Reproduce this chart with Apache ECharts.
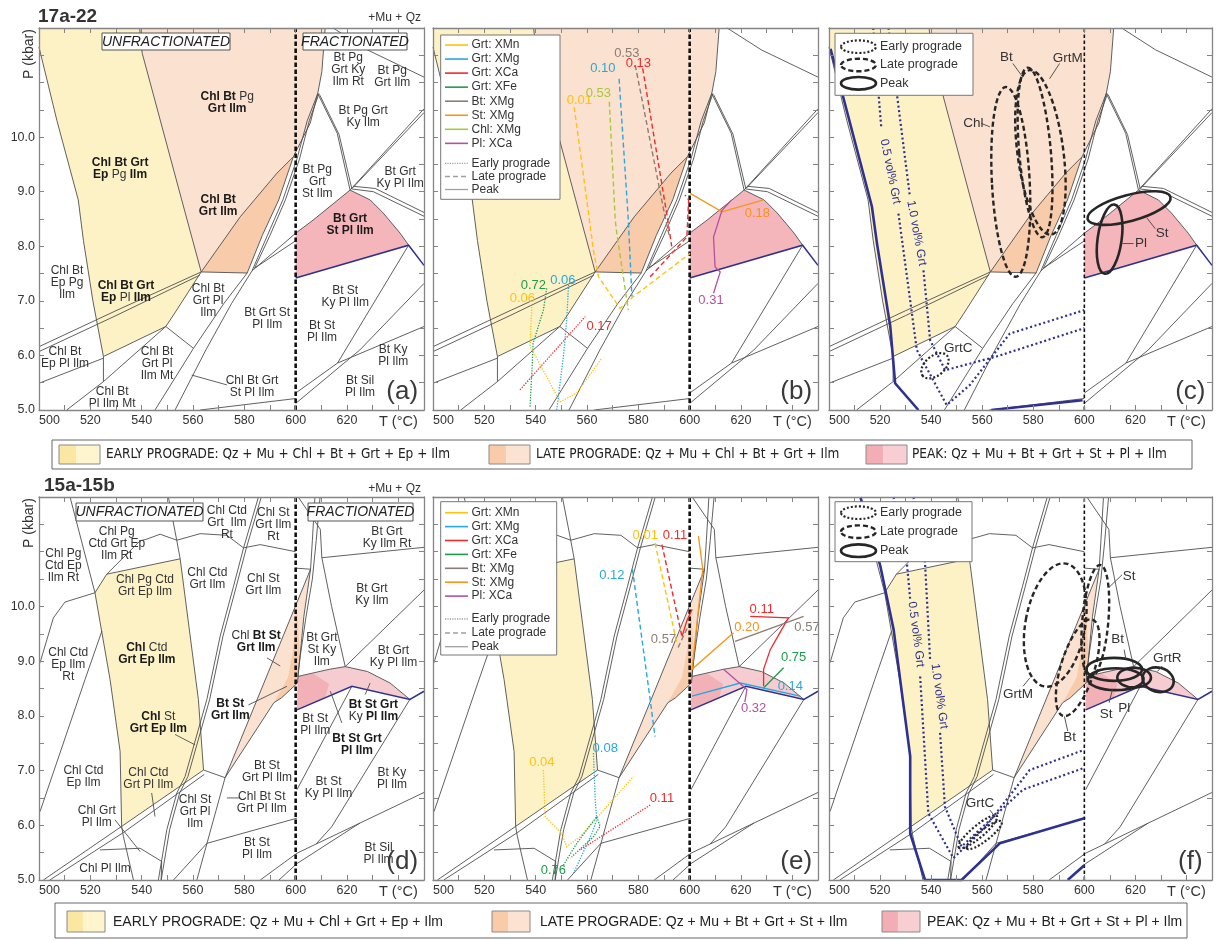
<!DOCTYPE html>
<html><head><meta charset="utf-8">
<script src="https://cdn.jsdelivr.net/npm/echarts/dist/echarts.min.js"></script>
<style>html,body{margin:0;padding:0;background:#fff}#c{width:1220px;height:940px}</style>
</head><body><div id="c"></div>
<script>
// ---------------- DATA ----------------
const T_MIN = 500, T_MAX = 650, T_STEP = 10, T_NAME_AT = 640;
const P_MIN = 5, P_MAX = 12, P_STEP = 0.5;
const FRACT_T = 600;

// Row 1 (17a-22) assemblage fields
const r1Yellow = [[500,12],[539.2,12],[540.2,11.54],[555.6,8.85],[563.2,7.53],[552.4,6.74],[549.4,6.53],[525.1,5.98],[521,7.0],[517.3,8.11],[515.3,8.85],[507,10.3],[500,11.65]];
const r1OrangeLight = [[539.2,12],[611.5,12],[610.2,11.2],[608.6,10.8],[605.7,10.26],[599.1,9.64],[592.7,9.34],[578.4,8.54],[563.2,7.53],[555.6,8.85],[540.2,11.54]];
const r1OrangeDark = [[563.2,7.53],[581.1,7.51],[587,8.2],[593.4,8.85],[599.1,9.64],[592.7,9.34],[578.4,8.54]];
const r1Pink = [[600,8.24],[606.8,8.48],[621.2,9.03],[629,8.85],[634.1,8.61],[640.7,8.24],[644,8.02],[600,7.42]];
const r1Lines = [
 [[500,11.65],[507,10.3],[515.3,8.85],[517.3,8.11],[521,7.0],[525.1,5.98],[525.1,5.52]],
 [[539.2,12],[540.2,11.54],[555.6,8.85],[563.2,7.53]],
 [[611.5,12],[610.2,11.2],[608.6,10.8],[605.7,10.26],[599.1,9.64]],
 [[581.1,7.51],[587,8.2],[593.4,8.85],[599.1,9.64]],
 [[583,7.55],[589,8.2],[595,8.85],[600.5,9.6],[604.5,10.3],[608.6,10.8]],
 [[584,7.6],[590,8.2],[596,8.85],[601.5,9.6],[605.3,10.3],[609.1,10.8]],
 [[500,6.16],[530,6.82],[563.2,7.53],[578.4,8.54],[592.7,9.34],[599.1,9.64]],
 [[500,6.07],[530,6.73],[562.6,7.47]],
 [[500,5.49],[525.1,5.95]],
 [[510.8,5.0],[525.1,5.52],[549.4,6.53]],
 [[525.1,5.98],[549.4,6.53],[552.4,6.74],[563.2,7.53]],
 [[545.2,5.0],[560.2,6.13],[572,6.95],[581.1,7.51]],
 [[549.4,6.53],[560.2,6.13]],
 [[553,5.0],[565,6.1],[575,6.95],[583,7.55]],
 [[563.2,7.53],[581.1,7.51]],
 [[562.8,5.0],[600,5.21]],
 [[583,7.55],[600,8.24],[606.8,8.48],[621.2,9.03]],
 [[584,7.6],[600,8.1]],
 [[608.6,10.8],[616.2,10.07],[621.2,9.03]],
 [[609.3,10.78],[616.9,10.05],[621.9,9.05]],
 [[621.2,9.03],[650,10.52]],
 [[622.2,9.07],[650,10.45]],
 [[621.2,9.03],[629,8.85],[634.1,8.61],[640.7,8.24],[644,8.02]],
 [[621.9,9.05],[630.3,9.0],[650,8.55]],
 [[622.4,9.1],[631,9.06],[650,8.62]],
 [[614.6,12],[627.9,11.6],[650,11.1]],
 [[644,8.02],[616.3,5.86]],
 [[600,5.31],[616.3,5.86],[650,6.53]],
 [[600,5.12],[625,6.1],[650,7.32]]
];
const r1Leaders = [[[559.5,5.64],[573.2,5.46]]];
const r1Blue = [[600,7.42],[644,8.02],[650,7.65]];
const r1Labels = [
 [573.3,10.64,'{b|Chl Bt} {n|Pg}\n{b|Grt Ilm}'],
 [531.6,9.43,'{b|Chl Bt Grt}\n{b|Ep} {n|Pg} {b|Ilm}'],
 [569.8,8.75,'{b|Chl Bt}\n{b|Grt Ilm}'],
 [620.5,11.23,'Bt Pg\nGrt Ky\nIlm Rt'],
 [637.6,11.1,'Bt Pg\nGrt Ilm'],
 [626.3,10.37,'Bt Pg Grt\nKy Ilm'],
 [608.4,9.18,'Bt Pg\nGrt\nSt Ilm'],
 [640.7,9.25,'Bt Grt\nKy Pl Ilm'],
 [621.2,8.39,'{b|Bt Grt}\n{b|St Pl Ilm}'],
 [510.9,7.33,'Chl Bt\nEp Pg\nIlm'],
 [533.9,7.16,'{b|Chl Bt Grt}\n{b|Ep} {n|Pl} {b|Ilm}'],
 [565.9,7.01,'Chl Bt\nGrt Pl\nIlm'],
 [588.9,6.68,'Bt Grt St\nPl Ilm'],
 [619.3,7.07,'Bt St\nKy Pl Ilm'],
 [610.3,6.43,'Bt St\nPl Ilm'],
 [510.1,5.95,'Chl Bt\nEp Pl Ilm'],
 [546,5.84,'Chl Bt\nGrt Pl\nIlm Mt'],
 [638,6.0,'Bt Ky\nPl Ilm'],
 [583,5.42,'Chl Bt Grt\nSt Pl Ilm'],
 [625.1,5.42,'Bt Sil\nPl Ilm'],
 [528.5,5.22,'Chl Bt\nPl Ilm Mt']
];

// Row 2 (15a-15b) assemblage fields
const r2Yellow = [[521.8,10.25],[526.4,10.59],[555,10.87],[562.1,8.3],[564.1,7.01],[532.2,5.98],[531.6,7.35],[527.7,8.66]];
const r2OrangeLight = [[572.5,6.87],[605.8,10.68],[603.2,9.82],[600.7,8.6],[594.5,8.33],[591.5,8.24]];
const r2OrangeDark = [[591.5,8.24],[594.5,8.33],[600.7,8.6],[601.6,9.2],[600.5,9.95],[599,9.2],[597,8.7]];
const r2PinkLight = [[600.8,8.72],[613,8.85],[619.3,8.9],[628,8.81],[636.8,8.6],[644.5,8.3],[621.9,8.54],[600.5,8.11]];
const r2PinkDark = [[600.5,8.11],[600.8,8.72],[607,8.77],[613,8.58],[611.5,8.33]];
const r2Lines = [
 [[512.1,12],[521.8,10.25],[527.7,8.66],[531.6,7.35],[532.2,5.98],[532.9,5.79],[536.8,5.0]],
 [[500.4,8.97],[505.6,9.79],[510.1,10.08],[521.8,10.25],[526.4,10.59],[529.6,10.74],[539.4,11.2],[542,11.23]],
 [[526.4,10.59],[555,10.87]],
 [[550.4,12],[553.7,11.2],[555,10.87],[562.1,8.3],[564.1,7.01]],
 [[542,11.23],[547.2,11.32],[553.7,11.21],[562.8,11.33],[573.2,11.3],[579.7,11.07],[586.2,11.13],[600,11.0]],
 [[585.5,12],[579.7,11.07],[575.8,10.37],[570.6,9.46],[565.4,8.3],[556.9,6.89],[553.7,6.59],[549.8,5.92],[546.5,5.0]],
 [[586.6,12],[580.8,11.07],[576.9,10.37],[571.7,9.46],[566.5,8.3],[558,6.89],[554.8,6.59],[550.9,5.92],[547.6,5.0]],
 [[500.4,6.25],[517.9,8.66],[524.5,9.55]],
 [[501.7,5.0],[532.2,5.98],[564.1,7.01]],
 [[504.2,5.0],[533,5.87],[564.4,6.93]],
 [[564.1,7.01],[572.5,6.87]],
 [[572.5,6.87],[561.5,5.0]],
 [[572.5,6.87],[605.8,10.68]],
 [[572.5,6.87],[591.5,8.24],[594.5,8.33],[600.7,8.6],[603.2,9.82],[605.8,10.68]],
 [[600.5,6.13],[565.4,5.67],[552.4,5.0]],
 [[523.8,5.55],[539.4,5.58],[547.8,5.34],[547.6,5.0]],
 [[586.2,5.0],[600.5,5.49],[650,6.6]],
 [[593.5,5.0],[600.5,5.3],[625,6.04]],
 [[600.5,6.65],[621.9,8.54]],
 [[644.5,8.3],[614,5.97],[608,5.66]],
 [[600.8,8.72],[613,8.85],[619.3,8.9],[628,8.81],[636.8,8.6],[644.5,8.3]],
 [[601,12],[609.6,11.41],[610.2,10.89],[614,10.0],[619.3,8.9]],
 [[607.5,12],[606.5,11.2],[605.8,10.68]],
 [[609.5,12],[608,11.2],[606.5,10.5],[604,9.8],[601.8,9.1],[600.8,8.72]],
 [[610.2,10.89],[650,11.08]],
 [[619.3,8.9],[650,10.3]],
 [[600,10.7],[605.8,10.68]]
];
const r2Leaders = [
 [[581.6,8.2],[596.6,8.54]],
 [[588.8,9.06],[594,8.91]],
 [[573.2,6.5],[578.4,6.5]],
 [[553,7.66],[560.8,7.47]],
 [[613.5,8.45],[618,7.87]],
 [[629,8.6],[627.1,8.39]],
 [[529.6,6.1],[539.4,5.52]],
 [[543.9,6.59],[545.2,6.16]]
];
const r2Blue = [[600.5,8.11],[621.9,8.54],[644.5,8.3],[650,8.45]];
const r2Labels = [
 [509.5,10.74,'Chl Pg\nCtd Ep\nIlm Rt'],
 [530.3,11.15,'Chl Pg\nCtd Grt Ep\nIlm Rt'],
 [573.2,11.53,'Chl Ctd\nGrt  Ilm\nRt'],
 [591.3,11.5,'Chl St\nGrt Ilm\nRt'],
 [635.6,11.26,'Bt Grt\nKy Ilm Rt'],
 [541.3,10.38,'Chl Pg Ctd\nGrt Ep Ilm'],
 [565.6,10.51,'Chl Ctd\nGrt Ilm'],
 [587.4,10.40,'Chl St\nGrt Ilm'],
 [629.7,10.22,'Bt Grt\nKy Ilm'],
 [511.4,8.94,'Chl Ctd\nEp Ilm\nRt'],
 [542,9.14,'{b|Chl} {n|Ctd}\n{b|Grt Ep Ilm}'],
 [584.6,9.36,'{n|Chl} {b|Bt St}\n{b|Grt Ilm}'],
 [610.2,9.21,'Bt Grt\nSt Ky\nIlm'],
 [638.1,9.09,'Bt Grt\nKy Pl Ilm'],
 [574.5,8.11,'{b|Bt St}\n{b|Grt Ilm}'],
 [546.5,7.87,'{b|Chl} {n|St}\n{b|Grt Ep Ilm}'],
 [607.6,7.84,'Bt St\nPl Ilm'],
 [630.3,8.1,'{b|Bt St Grt}\n{n|Ky} {b|Pl Ilm}'],
 [623.9,7.47,'{b|Bt St Grt}\n{b|Pl Ilm}'],
 [517.3,6.89,'Chl Ctd\nEp Ilm'],
 [542.6,6.85,'Chl Ctd\nGrt Pl Ilm'],
 [588.8,6.98,'Bt St\nGrt Pl Ilm'],
 [612.8,6.68,'Bt St\nKy Pl Ilm'],
 [637.5,6.86,'Bt Ky\nPl Ilm'],
 [586.8,6.42,'Chl Bt St\nGrt Pl Ilm'],
 [560.8,6.25,'Chl St\nGrt Pl\nIlm'],
 [522.5,6.15,'Chl Grt\nPl Ilm'],
 [584.9,5.58,'Bt St\nPl Ilm'],
 [525.7,5.21,'Chl Pl Ilm'],
 [632.3,5.49,'Bt Sil\nPl Ilm']
];
const panelLetters = ['(a)','(b)','(c)','(d)','(e)','(f)'];
const panelLetterAt = [641.5, 5.33];

// Isopleths: [mineral key, stage, points, value label, label T, label P]
const isoColors = {XMn:'#FFC20E', XMg:'#27A8E0', XCa:'#EE2B2B', XFe:'#1E9B4B', BtXMg:'#8C7D74', St:'#F7941D', ChlXMg:'#A6C83B', Pl:'#B5519E'};
const isoNames = {XMn:'Grt: XMn', XMg:'Grt: XMg', XCa:'Grt: XCa', XFe:'Grt: XFe', BtXMg:'Bt: XMg', St:'St: XMg', ChlXMg:'Chl: XMg', Pl:'Pl: XCa'};
const bLegendKeys = ['XMn','XMg','XCa','XFe','BtXMg','St','ChlXMg','Pl'];
const eLegendKeys = ['XMn','XMg','XCa','XFe','BtXMg','St','Pl'];
const bIsopleths = [
 ['XMn','late',[[555.0,10.55],[559.9,8.85],[562.5,7.93],[564.5,7.44],[572.9,6.86],[578.1,7.08],[600.2,7.87]],'0.01',557.0,10.68],
 ['ChlXMg','late',[[568.7,10.65],[571.0,8.48],[571.6,8.24],[576.1,6.83]],'0.53',564.4,10.8],
 ['XMg','late',[[572.5,11.07],[576.1,8.48],[577.5,7.08]],'0.10',566.2,11.26],
 ['BtXMg','late',[[578.8,11.32],[590.4,8.54],[592,8.2]],'0.53',575.5,11.53],
 ['XCa','late',[[581.7,11.26],[591.4,8.5],[593,8.0]],'0.13',580.0,11.35],
 ['XCa','late',[[584.6,7.44],[598.9,8.17],[599.6,8.85],[598.2,8.94]],'',0,0],
 ['St','peak',[[600.2,8.97],[612.6,8.63],[628.8,8.85]],'0.18',626.4,8.61],
 ['Pl','peak',[[616.4,8.85],[612.6,8.66],[609.3,8.17],[609.9,7.62],[611.9,7.53],[609.3,7.14]],'0.31',608.3,7.01],
 ['XFe','early',[[544.3,7.23],[543.0,6.83],[539.0,6.22],[538.5,5.67],[537.8,5.06]],'0.72',539.1,7.29],
 ['XMg','early',[[552.8,7.29],[552.1,6.65],[550.8,5.98],[548.2,5.0]],'0.06',550.6,7.38],
 ['XMn','early',[[538.5,6.89],[537.8,6.16],[539.8,6.0],[549.5,5.15],[556.0,5.31],[565.8,5.95]],'0.06',534.8,7.05],
 ['XCa','early',[[533.9,5.37],[559.3,6.71]],'0.17',564.7,6.53]
];
const eIsopleths = [
 ['XMn','late',[[586.5,11.16],[595,9.33]],'0.01',582.7,11.29],
 ['XCa','late',[[589.2,11.13],[597,9.45]],'0.11',594.3,11.29],
 ['XCa','peak',[[597,9.45],[599,9.75],[601,9.95]],'',0,0],
 ['XMg','late',[[577.7,10.68],[584.6,8.3],[586.5,7.62]],'0.12',569.7,10.57],
 ['BtXMg','late',[[595.5,9.25],[599,9.6]],'0.57',589.8,9.4],
 ['St','peak',[[603.4,11.29],[605.1,10.68],[600.9,8.85],[617.1,9.52]],'0.20',622.3,9.61],
 ['XCa','peak',[[623.6,9.82],[638.5,9.79],[635.9,9.58],[631.4,9.21],[628.8,8.85],[628.8,8.54]],'0.11',628.1,9.95],
 ['BtXMg','peak',[[617.7,9.36],[644.4,9.82]],'0.57',645.7,9.61],
 ['XFe','peak',[[628.8,8.51],[636.6,8.88]],'0.75',640.5,9.06],
 ['XMg','peak',[[600.9,8.36],[619.7,8.6],[643.1,8.36]],'0.14',639.2,8.54],
 ['Pl','peak',[[613.2,8.85],[622.3,8.48],[621.5,8.25]],'0.32',624.9,8.14],
 ['XMn','early',[[543,7.01],[543.7,6.16],[550.2,5.85],[552.1,5.61],[557.3,5.79],[578.1,6.89]],'0.04',542.4,7.14],
 ['XMg','early',[[562.5,7.32],[563.2,6.47],[563.8,6.1],[561.9,5.85],[554.7,5.12]],'0.08',567.1,7.41],
 ['XCa','early',[[584.6,6.37],[557.3,5.55]],'0.11',589.2,6.5],
 ['XFe','early',[[550.8,5.27],[556,5.67],[563.8,6.16],[565.1,5.98],[562.5,5.79],[554,5.42]],'0.76',546.9,5.18]
];

// Uncertainty ellipses: [stage, T, P, semi-axis T, semi-axis P, tilt deg]
const cEllipses = [
 ['late',571.2,9.18,7.4,1.74,3], ['late',580.7,9.72,6.2,1.56,5], ['late',582.8,9.72,9.0,1.52,7.5],
 ['peak',617.5,8.70,16.8,0.24,15], ['peak',609.9,8.13,4.7,0.64,-8],
 ['early',541.5,5.81,6.2,0.18,40]
];
const fEllipses = [
 ['late',588.6,9.66,11.7,1.14,-10], ['late',604.3,9.73,5.1,1.03,-5], ['late',597.4,8.88,6.6,0.92,-17],
 ['peak',611.7,8.85,10.9,0.21,0], ['peak',612.3,8.67,10.9,0.2,0], ['peak',619.5,8.70,6.6,0.18,0], ['peak',628.9,8.66,6.2,0.22,-15],
 ['early',558.3,5.88,9.7,0.11,40], ['early',560.8,5.82,8.6,0.1,38]
];
const cTexts = [[556.5,10.25,'Chl'],[569.5,11.47,'Bt'],[593.5,11.44,'GrtM'],[630.5,8.24,'St'],[622.2,8.05,'Pl'],[550.6,6.13,'GrtC']];
const cLeaders = [[[559.7,10.25],[563,10.19]],[[572,11.35],[575.9,11.1]],[[590.3,11.35],[586.4,11.07]],[[624.5,8.52],[627.8,8.32]],[[614.9,8.05],[619.3,8.05]]];
const fTexts = [[574,8.39,'GrtM'],[617.5,10.56,'St'],[594.2,7.6,'Bt'],[613,9.40,'Bt'],[608.5,8.02,'St'],[615.6,8.14,'Pl'],[632.5,9.06,'GrtR'],[559.1,6.4,'GrtC']];
const fLeaders = [[[576,8.54],[578.6,8.69]],[[614.8,10.58],[609.7,10.35]],[[592.2,7.99],[593.5,7.72]],[[615.6,9.21],[616.3,9.03]],[[609.7,8.24],[611,8.48]],[[630.5,8.91],[628.6,8.81]],[[563,6.28],[564.9,6.16]]];
const cBlueThick = [[[500.6,11.62],[516.8,8.73],[518.8,8.05],[524,6.53],[525.9,5.49],[535,5.0]],[[563.6,5.0],[599.3,5.18]]];
const cBlueDotted = [[[517.3,12],[520.5,10.16]],[[527.2,8.6],[534.4,6.1],[546.1,5.09],[555.2,5.46],[570.8,6.40],[600,6.83]],[[523.3,12],[531.7,8.91]],[[537,7.56],[539.6,6.28],[545.5,5.73],[565.6,5.98],[600,6.5]]];
const cBlueTexts = [[524,9.37,'0.5 vol% Grt',-78.6],[534.3,8.24,'1.0 vol% Grt',-79.5]];
const fBlueThick = [[[512.3,12],[520.1,10.74],[525.3,9.58],[531.8,7.26],[531.8,5.85],[537.6,5.0],[551.9,5.0],[566.9,5.67],[600,6.13]],[[593.5,5.0],[600,5.27]]];
const fBlueDotted = [[[525.3,12],[530.5,10.8],[531.8,10.13]],[[535.7,8.72],[538.9,6.22],[548.7,5.4],[560.4,5.92],[578.6,7.01],[600,7.38]],[[533.1,12],[537.6,10.8],[539.6,9.03]],[[543.5,7.69],[545.4,6.34],[551.9,5.61],[575.9,6.65],[600,7.05]]];
const fBlueTexts = [[534.1,9.49,'0.5 vol% Grt',-82.6],[543.2,8.36,'1.0 vol% Grt',-82]];

const legendRow1 = ['EARLY PROGRADE: Qz + Mu + Chl + Bt + Grt + Ep + Ilm','LATE PROGRADE: Qz + Mu + Chl + Bt + Grt + Ilm','PEAK: Qz + Mu + Bt + Grt + St + Pl + Ilm'];
const legendRow2 = ['EARLY PROGRADE: Qz + Mu + Chl + Grt + Ep + Ilm','LATE PROGRADE: Qz + Mu + Bt + Grt + St + Ilm','PEAK: Qz + Mu + Bt + Grt + St + Pl + Ilm'];
const stageNames = ['Early prograde','Late prograde','Peak'];

// ---------------- STYLE / LAYOUT ----------------
const FONT = "'Liberation Sans', Arial, sans-serif";
const GRIDS = [
 {left:39, top:28, width:385, height:382},
 {left:433, top:28, width:385, height:382},
 {left:829, top:28, width:383, height:382},
 {left:39, top:497, width:385, height:383},
 {left:433, top:497, width:385, height:383},
 {left:829, top:497, width:383, height:383}
];
const FILL = {yellow:'#FDF2C6', orangeL:'#FBE1D0', orangeD:'#F8CBAA', pink1:'#F4B6BB', pinkL:'#F7CCD1', pinkD:'#F1B1B7'};
const LINE_C = '#4f4f4f', BLUE = '#2E3192';
const ISO_DASH = {early:[1.3,1.4], late:[5,3], peak:null};
const ISO_W = {early:1.3, late:1.4, peak:1.3};
const ELL = {early:{w:2.2,dash:[2,2]}, late:{w:2.4,dash:[5,3]}, peak:{w:2.6,dash:null}};
const RICH = {
 b:{fontWeight:'bold',fontSize:12,fontFamily:FONT,fill:'#1a1a1a',lineHeight:12},
 n:{fontWeight:'normal',fontSize:12,fontFamily:FONT,fill:'#333',lineHeight:12}
};

// ---------------- HELPERS ----------------
const pts = (api, arr) => arr.map(p => api.coord(p));
const polyEl = (api, arr, fill) => ({type:'polygon', shape:{points:pts(api,arr)}, style:{fill:fill, stroke:'none'}});
const lineEl = (api, arr, stroke, w, dash) => ({type:'polyline', shape:{points:pts(api,arr)}, style:{stroke:stroke, lineWidth:w, fill:'none', lineDash:dash||null}});
const textEl = (api, T, P, text, o) => { const c = api.coord([T,P]); return {type:'text', x:c[0], y:c[1], rotation:o.rot||0,
  style:{text:text, fill:o.color||'#333', fontSize:o.size||12, fontFamily:FONT, fontWeight:o.weight||'normal', align:'center', verticalAlign:'middle', lineHeight:o.lh||12, rich:RICH}}; };
const ellEl = (api, e) => { const c = api.coord([e[1],e[2]]); const s = api.size([e[3],e[4]]); const st = ELL[e[0]];
  return {type:'ellipse', x:c[0], y:c[1], rotation:e[5]*Math.PI/180, shape:{cx:0,cy:0,rx:s[0],ry:s[1]}, style:{stroke:'#262626', fill:'none', lineWidth:st.w, lineDash:st.dash}}; };
function cs(i, z, build){
  return {type:'custom', xAxisIndex:2*i, yAxisIndex:2*i, z:z, silent:true, animation:false, clip:false,
    data:[[FRACT_T, 8]], renderItem:(p, api) => ({type:'group', children:build(api)})};
}

// ---------------- AXES ----------------
const xAxes = [], yAxes = [];
GRIDS.forEach((g, i) => {
  const line = {show:true, onZero:false, lineStyle:{color:'#858585', width:1.3}};
  const tick = {show:true, inside:true, length:5, lineStyle:{color:'#858585', width:1}};
  xAxes.push({type:'value', gridIndex:i, position:'bottom', min:T_MIN, max:T_MAX, interval:T_STEP, z:10,
    axisLine:line, axisTick:tick, splitLine:{show:false},
    axisLabel:{show:true, margin:4, color:'#333', fontSize:12.5, fontFamily:FONT, alignMinLabel:'left', showMaxLabel:false,
      formatter:v => v === T_NAME_AT ? '{t|T (°C)}' : (v % 20 === 0 ? String(v) : ''),
      rich:{t:{fontSize:14.5, color:'#333', fontFamily:FONT}}}});
  xAxes.push({type:'value', gridIndex:i, position:'top', min:T_MIN, max:T_MAX, interval:T_STEP, z:10,
    axisLine:line, axisTick:tick, axisLabel:{show:false}, splitLine:{show:false}});
  yAxes.push({type:'value', gridIndex:i, position:'left', min:P_MIN, max:P_MAX, interval:P_STEP, z:10,
    axisLine:line, axisTick:tick, splitLine:{show:false},
    axisLabel:{show:i % 3 === 0, margin:4, color:'#333', fontSize:12.5, fontFamily:FONT,
      formatter:v => (Math.abs(v - Math.round(v)) < 1e-6 && v <= 10.01) ? v.toFixed(1) : ''}});
  yAxes.push({type:'value', gridIndex:i, position:'right', min:P_MIN, max:P_MAX, interval:P_STEP, z:10,
    axisLine:line, axisTick:tick, axisLabel:{show:false}, splitLine:{show:false}});
});

// ---------------- SERIES ----------------
const series = [];
for (let i = 0; i < 6; i++) {
  const row1 = i < 3;
  const col = i % 3;
  series.push(cs(i, 1, api => row1
    ? [polyEl(api,r1Yellow,FILL.yellow), polyEl(api,r1OrangeLight,FILL.orangeL), polyEl(api,r1OrangeDark,FILL.orangeD), polyEl(api,r1Pink,FILL.pink1)]
    : [polyEl(api,r2Yellow,FILL.yellow), polyEl(api,r2OrangeLight,FILL.orangeL), polyEl(api,r2OrangeDark,FILL.orangeD), polyEl(api,r2PinkLight,FILL.pinkL), polyEl(api,r2PinkDark,FILL.pinkD)]));
  series.push(cs(i, 3, api => {
    const ch = (row1 ? r1Lines : r2Lines).map(l => lineEl(api, l, LINE_C, 0.9));
    ch.push(lineEl(api, row1 ? r1Blue : r2Blue, BLUE, 1.5));
    const thin = col === 2;
    ch.push(lineEl(api, [[FRACT_T,P_MIN],[FRACT_T,P_MAX]], '#111', thin ? 1.6 : 2.6, thin ? [3.5,2.5] : [4.5,2.5]));
    return ch;
  }));
  if (col === 0) {
    series.push(cs(i, 6, api => {
      const ch = (row1 ? r1Leaders : r2Leaders).map(l => lineEl(api, l, LINE_C, 0.9));
      (row1 ? r1Labels : r2Labels).forEach(l => ch.push(textEl(api, l[0], l[1], l[2], {})));
      return ch;
    }));
  } else if (col === 1) {
    const iso = row1 ? bIsopleths : eIsopleths;
    series.push(cs(i, 5, api => {
      const ch = [];
      iso.forEach(d => {
        ch.push(lineEl(api, d[2], isoColors[d[0]], ISO_W[d[1]], ISO_DASH[d[1]]));
        if (d[3]) ch.push(textEl(api, d[4], d[5], d[3], {color:isoColors[d[0]], size:13}));
      });
      return ch;
    }));
  } else {
    const ells = row1 ? cEllipses : fEllipses, txt = row1 ? cTexts : fTexts, lead = row1 ? cLeaders : fLeaders;
    const bt = row1 ? cBlueThick : fBlueThick, bd = row1 ? cBlueDotted : fBlueDotted, btx = row1 ? cBlueTexts : fBlueTexts;
    series.push(cs(i, 5, api => {
      const ch = [];
      bt.forEach(l => ch.push(lineEl(api, l, BLUE, 2.6)));
      bd.forEach(l => ch.push(lineEl(api, l, BLUE, 2.2, [2,2.6])));
      btx.forEach(t => ch.push(textEl(api, t[0], t[1], t[2], {color:BLUE, size:12, rot:t[3]*Math.PI/180})));
      ells.forEach(e => ch.push(ellEl(api, e)));
      lead.forEach(l => ch.push(lineEl(api, l, '#444', 0.9)));
      txt.forEach(t => ch.push(textEl(api, t[0], t[1], t[2], {size:13.5, color:'#333'})));
      return ch;
    }));
  }
  series.push(cs(i, 7, api => [textEl(api, panelLetterAt[0], panelLetterAt[1], panelLetters[i], {size:26, color:'#3a3a3a', lh:28})]));
}

// ---------------- GRAPHIC (titles, legends) ----------------
const graphic = [];
const gText = (x, y, text, font, o) => graphic.push({type:'text', x:x, y:y, rotation:(o && o.rot) || 0, z:100,
  style:{text:text, fill:(o && o.color) || '#333', font:font, align:(o && o.align) || 'left', verticalAlign:'middle'}});
const gRect = (x, y, w, h, fill, stroke, lw) => graphic.push({type:'rect', z:100, shape:{x:x, y:y, width:w, height:h}, style:{fill:fill, stroke:stroke||'none', lineWidth:lw||1}});
const gLine = (x1, y1, x2, y2, stroke, w, dash) => graphic.push({type:'line', z:101, shape:{x1:x1, y1:y1, x2:x2, y2:y2}, style:{stroke:stroke, lineWidth:w, lineDash:dash||null}});
const gEll = (cx, cy, rx, ry, st) => graphic.push({type:'ellipse', z:101, shape:{cx:cx, cy:cy, rx:rx, ry:ry}, style:{stroke:'#262626', fill:'none', lineWidth:ELL[st].w, lineDash:ELL[st].dash}});

gText(38, 17, '17a-22', 'bold 19px ' + FONT);
gText(44, 486, '15a-15b', 'bold 19px ' + FONT);
gText(421, 18, '+Mu + Qz', '12px ' + FONT, {align:'right'});
gText(421, 489, '+Mu + Qz', '12px ' + FONT, {align:'right'});
gText(29, 54, 'P (kbar)', '14px ' + FONT, {align:'center', rot:Math.PI/2});
gText(29, 523, 'P (kbar)', '14px ' + FONT, {align:'center', rot:Math.PI/2});
[[102,33,128,17,'UNFRACTIONATED'],[303,33,104,17,'FRACTIONATED'],[76,503,127,18,'UNFRACTIONATED'],[308,503,105,18,'FRACTIONATED']].forEach(b => {
  gRect(b[0], b[1], b[2], b[3], '#fff', '#555', 1);
  gText(b[0] + b[2] / 2, b[1] + b[3] / 2 + 0.5, b[4], 'italic 14px ' + FONT, {align:'center', color:'#222'});
});
function isoLegend(g, keys, box, y0, dy, ys) {
  gRect(g.left + box[0], g.top + box[1], box[2], box[3], '#fff', '#777', 1);
  keys.forEach((k, j) => {
    const y = g.top + y0 + j * dy;
    gLine(g.left + 12, y, g.left + 35, y, isoColors[k], 1.6);
    gText(g.left + 38.5, y, isoNames[k], '12px ' + FONT, {color:'#333'});
  });
  const dashes = [[1.2,1.2],[5,3],null];
  stageNames.forEach((s, j) => {
    const y = g.top + ys[j];
    gLine(g.left + 12, y, g.left + 35, y, '#a0a0a0', 1.3, dashes[j]);
    gText(g.left + 38.5, y, s, '12px ' + FONT, {color:'#333'});
  });
}
isoLegend(GRIDS[1], bLegendKeys, [7.7, 7, 119.3, 164.3], 17, 14.05, [135.3, 148.5, 161.5]);
isoLegend(GRIDS[4], eLegendKeys, [7.7, 4.7, 116, 153.3], 15.7, 13.9, [122, 136, 149.7]);
function ellLegend(g, box, ys) {
  gRect(g.left + box[0], g.top + box[1], box[2], box[3], '#fff', '#777', 1);
  ['early','late','peak'].forEach((st, j) => {
    const y = g.top + ys[j];
    gEll(g.left + 29.5, y, 17.5, 6.3, st);
    gText(g.left + 51, y, stageNames[j], '12.5px ' + FONT, {color:'#333'});
  });
}
ellLegend(GRIDS[2], [6, 5.3, 138, 62], [18.7, 37, 55.3]);
ellLegend(GRIDS[5], [6, 4.7, 137, 60], [15.7, 34.7, 53.7]);
const SW = [['#FBE7A1','#FEF4CE'],['#F9CBA9','#FCE2D1'],['#F3AEB5','#F8CED3']];
function fieldLegend(box, sx, sy, sw, sh, tx, ty, texts, font) {
  gRect(box[0], box[1], box[2], box[3], '#fff', '#666', 1);
  texts.forEach((t, j) => {
    gRect(sx[j], sy, sw * 0.42, sh, SW[j][0]);
    gRect(sx[j] + sw * 0.42, sy, sw * 0.58, sh, SW[j][1]);
    gRect(sx[j], sy, sw, sh, 'none', '#8a8a8a', 1);
    gText(tx[j], ty, t, font, {color:'#222'});
  });
}
fieldLegend([52,440,1140,29], [59,489,866], 445, 41, 19, [106,536,912], 454.5, legendRow1, "13.5px 'Liberation Sans Narrow', 'DejaVu Sans Condensed', " + FONT);
fieldLegend([55,903,1132,35], [67,492,882], 911, 38, 21, [113,540,927], 922, legendRow2, '14px ' + FONT);

const chart = echarts.init(document.getElementById('c'), null, {renderer:'canvas'});
chart.setOption({
  animation:false,
  backgroundColor:'#fff',
  grid:GRIDS.map(g => Object.assign({containLabel:false}, g)),
  xAxis:xAxes, yAxis:yAxes,
  series:series,
  graphic:graphic
});
</script></body></html>
